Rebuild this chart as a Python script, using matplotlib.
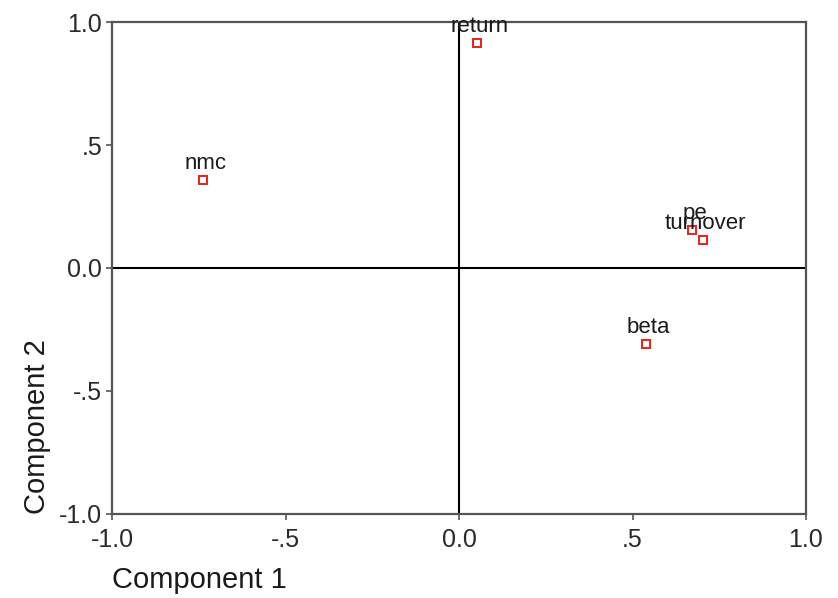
import numpy as np
import matplotlib.pyplot as plt
from matplotlib.ticker import FixedLocator

# Component loadings
names = ["return", "nmc", "pe", "turnover", "beta"]
comp1 = [0.052, -0.738, 0.671, 0.703, 0.539]
comp2 = [0.915, 0.358, 0.154, 0.114, -0.309]

tick_vals = [-1.0, -0.5, 0.0, 0.5, 1.0]
tick_text = ["-1.0", "-.5", "0.0", ".5", "1.0"]

plt.rcParams['font.family'] = ['Liberation Sans', 'DejaVu Sans']
dpi = 100
fig = plt.figure(figsize=(838/dpi, 598/dpi), dpi=dpi)
ax = fig.add_axes([0.1337, 0.1405, 0.8281, 0.8227])

# zero lines
ax.axhline(0, color='black', lw=1.5, zorder=1)
ax.axvline(0, color='black', lw=1.5, zorder=1)

ax.plot(comp1, comp2, ls='', marker='s', markersize=6, markerfacecolor='white',
        markeredgecolor='#e8201c', markeredgewidth=1.4, zorder=3)
for n, x, y in zip(names, comp1, comp2):
    ax.annotate(n, (x, y), xytext=(2, 8), textcoords='offset points',
                ha='center', va='baseline', fontsize=16, color='#1a1a1a', zorder=4)

ax.set_xlim(-1, 1)
ax.set_ylim(-1, 1)
ax.xaxis.set_major_locator(FixedLocator(tick_vals))
ax.yaxis.set_major_locator(FixedLocator(tick_vals))
ax.set_xticklabels(tick_text)
ax.set_yticklabels(tick_text)
ax.tick_params(direction='out', length=4, width=1.2, color='#555555',
               labelsize=18, labelcolor='#2a2a2a', pad=3)
ax.tick_params(axis='x', pad=6)
for s in ax.spines.values():
    s.set_color('#555555')
    s.set_linewidth(1.6)

ax.set_xlabel("Component 1", fontsize=21, color='#1a1a1a', labelpad=10, loc='left')
ax.set_ylabel("Component 2", fontsize=21, color='#1a1a1a', labelpad=6, loc='bottom')

fig.savefig("out.png", dpi=dpi)
